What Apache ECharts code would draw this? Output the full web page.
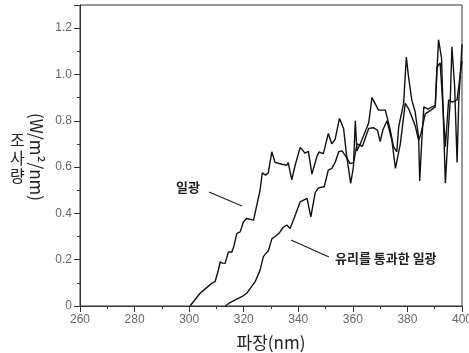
<!DOCTYPE html>
<html><head><meta charset="utf-8">
<script src="https://cdn.jsdelivr.net/npm/echarts@6/dist/echarts.min.js"></script>
<style>html,body{margin:0;padding:0;background:#fff}#c{width:469px;height:353px}</style>
</head><body><div id="c"></div>
<script>
// 일광 (sunlight): wavelength (nm) and irradiance (W/m²/nm)
var sunWave = [300.3,302,304,306,308.3,309.5,310.7,311.4,312.3,313.2,314.4,315.6,316.2,317.5,318.7,319.9,321.1,323.6,324.8,326,326.8,328,329,330.3,331.5,334,335.8,336.3,337.6,338.9,340.7,342.5,343.7,345,346.8,347.6,349.2,351,352.3,353.5,355.1,356.6,357.6,359.2,360.2,360.9,361.5,362.7,365.8,367,369.4,371.9,373.7,374.9,376.1,376.8,378.6,379.6,380.4,381.6,382.8,384.1,384.5,385.2,386,387.5,390.2,391.4,392.5,393.9,395.2,395.7,396.3,397.3,398.2,398.8,400];
var sunVal  = [0,0.025,0.055,0.075,0.098,0.105,0.155,0.19,0.185,0.184,0.234,0.232,0.25,0.314,0.32,0.364,0.378,0.371,0.436,0.5,0.575,0.565,0.575,0.666,0.62,0.612,0.608,0.62,0.545,0.61,0.685,0.66,0.668,0.57,0.645,0.665,0.658,0.745,0.7,0.72,0.81,0.767,0.66,0.53,0.6,0.8,0.67,0.7,0.79,0.9,0.846,0.846,0.76,0.688,0.666,0.774,0.875,1.075,0.99,0.89,0.84,0.73,0.54,0.7,0.86,0.85,0.867,1.15,1.07,0.53,0.8,0.89,1.12,0.95,0.62,0.88,1.13];
// 유리를 통과한 일광 (sunlight through glass)
var glassWave = [313.2,315,316.9,319.3,321.1,322.4,324.2,326,327.2,328,329.1,330.3,331.5,333,334.5,335.8,337,338.5,340.7,343.2,344.6,346.2,347.4,349.5,351,352.3,353.5,354.8,356,357.5,359,360.3,361.5,363.5,365.8,367.5,369,370,371,372.5,374.3,375.6,377.4,379.2,380.5,381.6,382.8,384.1,385,386.5,388.5,390.2,390.8,392,393.9,395.1,396.5,398.2,400];
var glassVal  = [0,0.015,0.026,0.04,0.055,0.076,0.105,0.155,0.213,0.225,0.24,0.29,0.3,0.315,0.34,0.35,0.335,0.38,0.45,0.465,0.385,0.49,0.51,0.515,0.587,0.594,0.62,0.666,0.67,0.645,0.615,0.62,0.7,0.69,0.767,0.77,0.76,0.71,0.76,0.8,0.716,0.594,0.7,0.875,0.85,0.817,0.78,0.716,0.745,0.83,0.845,0.86,1.03,1.05,0.688,0.89,0.88,0.89,1.06];
var xTicks = [260,280,300,320,340,360,380,400];
var yTicks = [0,0.2,0.4,0.6,0.8,1.0,1.2];

function pairs(xs, ys){ return xs.map(function(x,i){ return [x, ys[i]]; }); }

var chart = echarts.init(document.getElementById('c'), null, {renderer:'canvas'});
var lab = {color:'#666', fontSize:12, fontFamily:'Liberation Sans, Arial, sans-serif'};
chart.setOption({
  animation:false,
  backgroundColor:'#fff',
  grid:{left:80, right:7, top:5, bottom:47, show:true, borderColor:'#333', borderWidth:1,
        outerBoundsMode:'none', containLabel:false},
  xAxis:{type:'value', min:xTicks[0], max:xTicks[xTicks.length-1], interval:20,
    name:'파장(nm)', nameLocation:'middle', nameGap:28,
    nameTextStyle:{color:'#222', fontSize:17, fontFamily:'Noto Sans CJK KR, sans-serif'},
    axisLine:{lineStyle:{color:'#333', width:1}},
    axisTick:{inside:false, length:6, lineStyle:{color:'#333'}},
    minorTick:{show:true, splitNumber:2, length:3, lineStyle:{color:'#333'}},
    splitLine:{show:false},
    axisLabel:Object.assign({margin:8}, lab)},
  yAxis:{type:'value', min:0, max:1.3, interval:0.2,
    axisLine:{show:true, lineStyle:{color:'#333', width:1}},
    axisTick:{show:true, inside:false, length:6, lineStyle:{color:'#333'}},
    minorTick:{show:true, splitNumber:2, length:3, lineStyle:{color:'#333'}},
    splitLine:{show:false},
    axisLabel:Object.assign({margin:8, showMaxLabel:false,
      formatter:function(v){ if(yTicks.indexOf(Math.round(v*10)/10)<0) return ''; return v===0?'0':v.toFixed(1);} }, lab)},
  series:[
    {type:'line', name:'일광', data:pairs(sunWave,sunVal), symbol:'none', smooth:false,
     lineStyle:{color:'#111', width:1.4}},
    {type:'line', name:'유리를 통과한 일광', data:pairs(glassWave,glassVal), symbol:'none', smooth:false,
     lineStyle:{color:'#111', width:1.4}}
  ],
  graphic:[
    {type:'text', left:10, top:131, style:{text:'조\n사\n량', fill:'#222', font:'16px "Noto Sans CJK KR", sans-serif', lineHeight:18}},
    {type:'text', x:36, y:157, rotation:-Math.PI/2, style:{text:'(W/m²/nm)', fill:'#222', font:'17px "Noto Sans CJK KR", sans-serif', align:'center', verticalAlign:'middle'}},
    {type:'text', x:176, y:187, style:{text:'일광', fill:'#222', font:'bold 13px "Noto Sans CJK KR", sans-serif', verticalAlign:'middle'}},
    {type:'line', shape:{x1:209, y1:192, x2:242, y2:206}, style:{stroke:'#222', lineWidth:1.3}},
    {type:'text', x:335, y:258, style:{text:'유리를 통과한 일광', fill:'#222', font:'bold 13px "Noto Sans CJK KR", sans-serif', verticalAlign:'middle'}},
    {type:'line', shape:{x1:291, y1:240, x2:329, y2:257}, style:{stroke:'#222', lineWidth:1.3}}
  ]
});
</script></body></html>
